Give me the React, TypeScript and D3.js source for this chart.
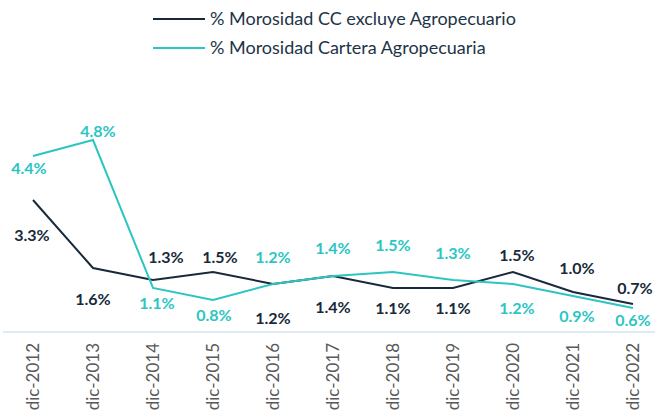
import React, { useEffect, useRef } from 'react'
import * as d3 from 'd3'

const years = ['dic-2012', 'dic-2013', 'dic-2014', 'dic-2015', 'dic-2016', 'dic-2017', 'dic-2018', 'dic-2019', 'dic-2020', 'dic-2021', 'dic-2022']
const moraExcluye = [3.3, 1.6, 1.3, 1.5, 1.2, 1.4, 1.1, 1.1, 1.5, 1.0, 0.7]
const moraAgro = [4.4, 4.8, 1.1, 0.8, 1.2, 1.4, 1.5, 1.3, 1.2, 0.9, 0.6]
const seriesNames = ['% Morosidad CC excluye Agropecuario', '% Morosidad Cartera Agropecuaria']

// label placement (pixel offsets from the point), tuned by eye
const darkLabelDy = [35, 31, -23, -15, 34, 31, 20, 20, -17, -24, -16]
const darkLabelDx = [-1, 0, 13, 7, 0, 0, 0, 0, 4, 4, 2]
const tealLabelDy = [12, -9, 15, 15, -27, -28, -27, -27, 24, 20, 12]
const tealLabelDx = [-4, 5, 4, 1, 0, 0, 0, 0, 4, 4, 0]

const DARK = '#17293a'
const TEAL = '#2cc5c3'

const App = () => {
  const ref = useRef(null)
  const width = 655
  const height = 412

  useEffect(() => {
    const svg = d3.select(ref.current)
    svg.selectAll('*').remove()

    const x = d3.scalePoint().domain(years).range([33, 633])
    const y = d3.scaleLinear().domain([0, 5]).range([332, 132])

    // axis baseline
    svg
      .append('line')
      .attr('x1', 3)
      .attr('x2', width)
      .attr('y1', y(0))
      .attr('y2', y(0))
      .attr('stroke', '#d3e5f4')
      .attr('stroke-width', 1.5)

    // category labels
    svg
      .append('g')
      .selectAll('text')
      .data(years)
      .enter()
      .append('text')
      .text(d => d)
      .attr('transform', d => `translate(${x(d) + 6}, 343) rotate(-90)`)
      .attr('text-anchor', 'end')
      .attr('font-family', 'Lato, sans-serif')
      .attr('font-size', '17px')
      .attr('fill', '#595959')

    const line = d3
      .line<number>()
      .x((d, i) => x(years[i]))
      .y(d => y(d))

    const series = [
      { values: moraExcluye, color: DARK, dx: darkLabelDx, dy: darkLabelDy },
      { values: moraAgro, color: TEAL, dx: tealLabelDx, dy: tealLabelDy },
    ]

    series.forEach(s => {
      svg
        .append('path')
        .datum(s.values)
        .attr('d', line)
        .attr('fill', 'none')
        .attr('stroke', s.color)
        .attr('stroke-width', 2)
    })

    series.forEach(s => {
      svg
        .append('g')
        .selectAll('text')
        .data(s.values)
        .enter()
        .append('text')
        .text(d => `${d.toFixed(1)}%`)
        .attr('x', (d, i) => x(years[i]) + s.dx[i])
        .attr('y', (d, i) => y(d) + s.dy[i])
        .attr('dy', '0.35em')
        .attr('text-anchor', 'middle')
        .attr('font-family', 'Lato, sans-serif')
        .attr('font-weight', 'bold')
        .attr('font-size', '16px')
        .attr('fill', s.color)
    })

    // legend
    const legend = svg.append('g')
    seriesNames.forEach((name, i) => {
      const ly = 19 + i * 29
      legend
        .append('line')
        .attr('x1', 153)
        .attr('x2', 205)
        .attr('y1', ly)
        .attr('y2', ly)
        .attr('stroke', i === 0 ? DARK : TEAL)
        .attr('stroke-width', 2)
      legend
        .append('text')
        .text(name)
        .attr('x', 210)
        .attr('y', ly)
        .attr('dy', '0.35em')
        .attr('font-family', 'Lato, sans-serif')
        .attr('font-size', '18px')
        .attr('fill', '#1d3447')
    })
  }, [])

  return <svg width={width} height={height} ref={ref} style={{ position: 'absolute', left: 0, top: 0 }} />
}

export default App
